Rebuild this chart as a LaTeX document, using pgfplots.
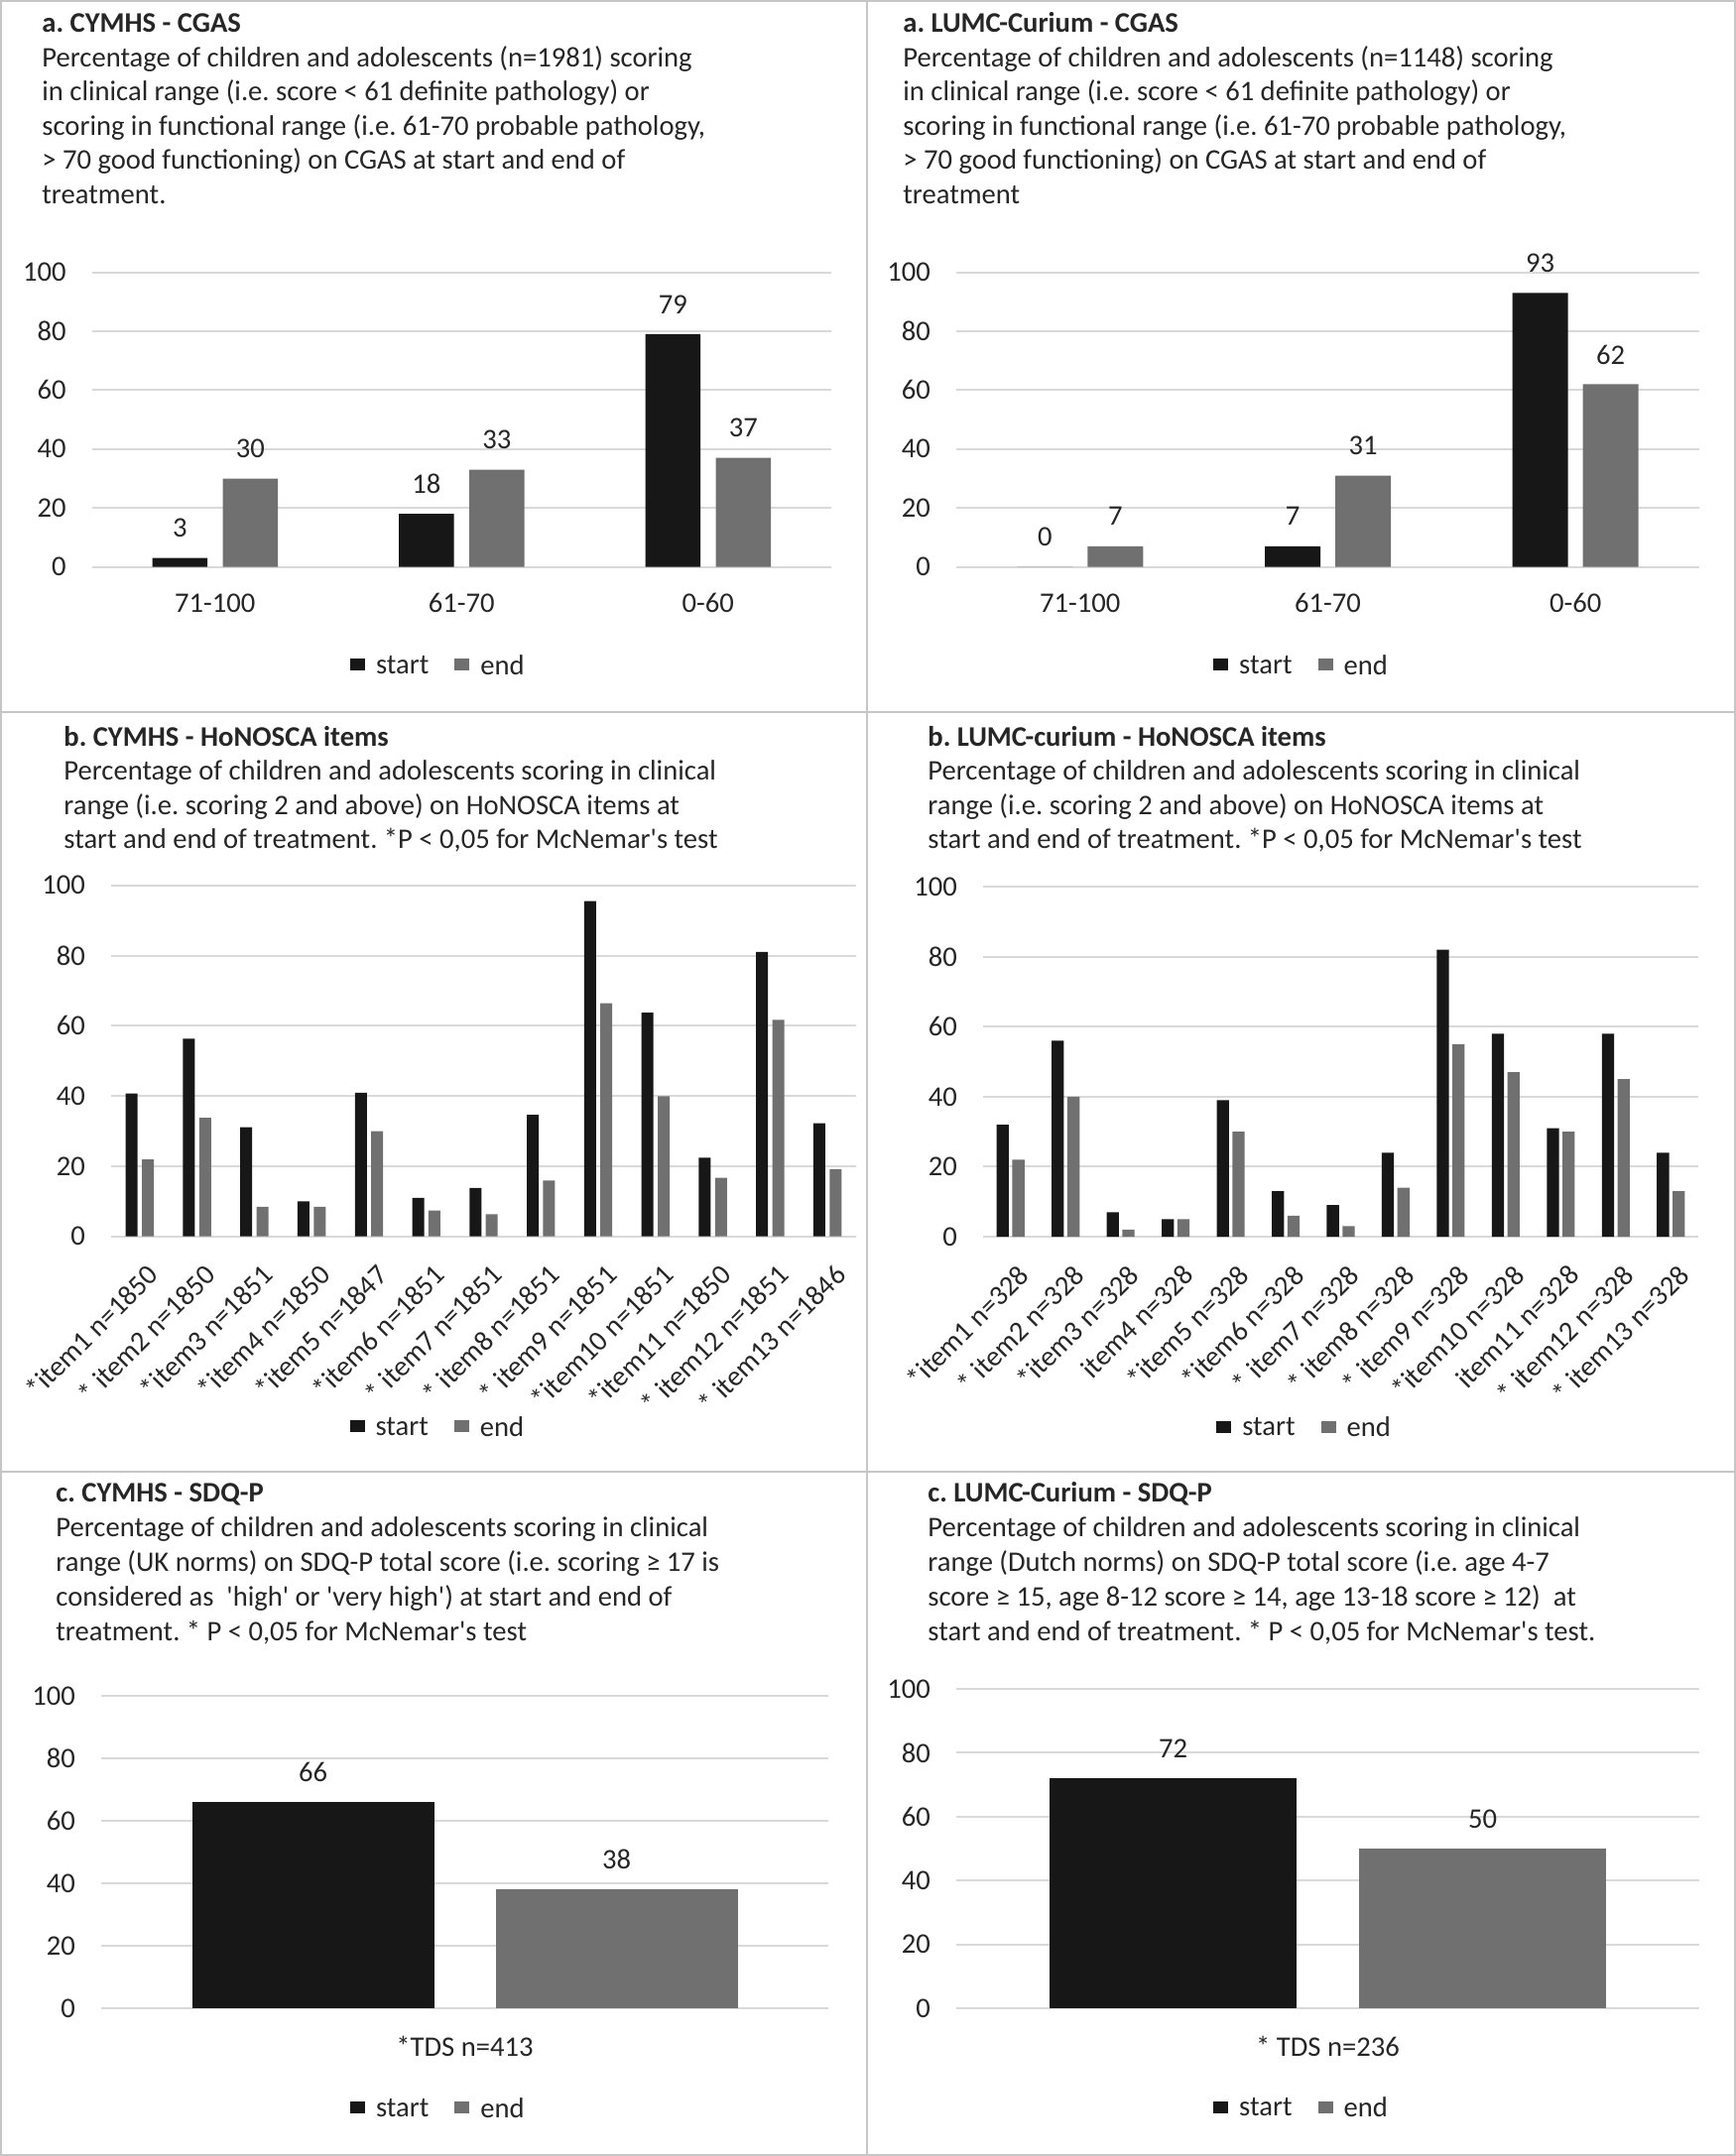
\documentclass[border=0pt]{standalone}
\usepackage{fontspec}
\setmainfont{Carlito}
\usepackage{pgfplots}
\pgfplotsset{compat=1.18}
\frenchspacing
\definecolor{cstart}{HTML}{171717}
\definecolor{cend}{HTML}{707070}
\definecolor{gridc}{HTML}{D9D9D9}
\definecolor{txt}{HTML}{262626}
\definecolor{framec}{HTML}{C6C6C6}
\newcommand\fs{\fontsize{14.3}{17.3}\selectfont\frenchspacing}
\newcommand\q{\textquotesingle}
\newcommand\tl[3]{\node[anchor=base west, inner sep=0pt, font=\fs, text=txt] at (#1pt,-#2pt) {#3};}
\newcommand\tb[3]{\node[anchor=base west, inner sep=0pt, font=\fs\bfseries, text=txt] at (#1pt,-#2pt) {#3};}
\pgfplotsset{
  panel/.style={
    scale only axis, anchor=south west, clip=false,
    enlargelimits=false,
    ymin=0, ymax=100, ytick={0,20,40,60,80,100},
    ymajorgrids, grid style={gridc, line width=1pt},
    axis line style={draw=none},
    major tick length=0pt, tick style={draw=none},
    /pgf/number format/assume math mode=true,
    tick label style={font=\fs, text=txt},
    yticklabel style={anchor=east, xshift=-9.5pt},
    ybar,
    legend style={draw=none, fill=none, legend columns=2, font=\fs, text=txt, anchor=center,
      /tikz/every odd column/.append style={column sep=3.5pt},
      /tikz/every even column/.append style={column sep=11pt}},
  },
  vals/.style={nodes near coords, every node near coord/.append style={font=\fs, text=txt, anchor=center, yshift=15pt}},
  sbar/.style={fill=cstart, draw=none, legend image code/.code={\fill[cstart] (0pt,-0.22em) rectangle (7.5pt,0.38em);}},
  ebar/.style={fill=cend, draw=none, legend image code/.code={\fill[cend] (0pt,-0.22em) rectangle (7.5pt,0.38em);}},
}
\begin{document}
\begin{tikzpicture}
\useasboundingbox (0,0) rectangle (875pt,-1087pt);
\fill[white] (0,0) rectangle (875pt,-1087pt);
\draw[framec, line width=1pt] (0.5pt,-0.5pt) rectangle (874.5pt,-1086.5pt);
\draw[framec, line width=1pt] (436.75pt,0pt) -- (436.75pt,-1087pt);
\draw[framec, line width=1pt] (0pt,-358.75pt) -- (875pt,-358.75pt);
\draw[framec, line width=1pt] (0pt,-742pt) -- (875pt,-742pt);

% ---------- texts: top row ----------
\tb{21}{16.25}{a. CYMHS - CGAS}
\tl{21}{33.55}{Percentage of children and adolescents (n=1981) scoring}
\tl{21}{50.85}{in clinical range (i.e. score < 61 definite pathology) or}
\tl{21}{68.15}{scoring in functional range (i.e. 61-70 probable pathology,}
\tl{21}{85.45}{> 70 good functioning) on CGAS at start and end of}
\tl{21}{102.75}{treatment.}
\tb{455}{16.25}{a. LUMC-Curium - CGAS}
\tl{455}{33.55}{Percentage of children and adolescents (n=1148) scoring}
\tl{455}{50.85}{in clinical range (i.e. score < 61 definite pathology) or}
\tl{455}{68.15}{scoring in functional range (i.e. 61-70 probable pathology,}
\tl{455}{85.45}{> 70 good functioning) on CGAS at start and end of}
\tl{455}{102.75}{treatment}
% ---------- texts: middle row ----------
\tb{32}{376}{b. CYMHS - HoNOSCA items}
\tl{32}{393.3}{Percentage of children and adolescents scoring in clinical}
\tl{32}{410.6}{range (i.e. scoring 2 and above) on HoNOSCA items at}
\tl{32}{427.9}{start and end of treatment. *P < 0,05 for McNemar\q s test}
\tb{467.5}{376}{b. LUMC-curium - HoNOSCA items}
\tl{467.5}{393.3}{Percentage of children and adolescents scoring in clinical}
\tl{467.5}{410.6}{range (i.e. scoring 2 and above) on HoNOSCA items at}
\tl{467.5}{427.9}{start and end of treatment. *P < 0,05 for McNemar\q s test}
% ---------- texts: bottom row ----------
\tb{28}{757}{c. CYMHS - SDQ-P}
\tl{28}{774.5}{Percentage of children and adolescents scoring in clinical}
\tl{28}{792}{range (UK norms) on SDQ-P total score (i.e. scoring ≥ 17 is}
\tl{28}{809.5}{considered as~ \q high\q{} or \q very high\q) at start and end of}
\tl{28}{827}{treatment. * P < 0,05 for McNemar\q s test}
\tb{467.5}{757}{c. LUMC-Curium - SDQ-P}
\tl{467.5}{774.5}{Percentage of children and adolescents scoring in clinical}
\tl{467.5}{792}{range (Dutch norms) on SDQ-P total score (i.e. age 4-7}
\tl{467.5}{809.5}{score ≥ 15, age 8-12 score ≥ 14, age 13-18 score ≥ 12)~ at}
\tl{467.5}{827}{start and end of treatment. * P < 0,05 for McNemar\q s test.}

% ---------- A left ----------
\begin{axis}[panel, vals, at={(46.3pt,-285.8pt)}, width=372.7pt, height=148.5pt,
  xmin=-0.5, xmax=2.5, xtick={0,1,2}, xticklabels={71-100,61-70,0-60},
  xticklabel style={anchor=center, yshift=-18.2pt},
  legend style={at={(0.470,-0.338)}}]
\addplot[sbar, bar width=27.75pt, bar shift=-17.75pt] coordinates {(0,3) (1,18) (2,79)};
\addplot[ebar, bar width=27.75pt, bar shift=17.75pt] coordinates {(0,30) (1,33) (2,37)};
\legend{start,end}
\end{axis}
% ---------- A right ----------
\begin{axis}[panel, vals, at={(482pt,-285.8pt)}, width=374.5pt, height=148.5pt,
  xmin=-0.5, xmax=2.5, xtick={0,1,2}, xticklabels={71-100,61-70,0-60},
  xticklabel style={anchor=center, yshift=-18.2pt},
  legend style={at={(0.466,-0.338)}}]
\addplot[sbar, bar width=28pt, bar shift=-17.75pt] coordinates {(0,0) (1,7) (2,93)};
\addplot[ebar, bar width=28pt, bar shift=17.75pt] coordinates {(0,7) (1,31) (2,62)};
\legend{start,end}
\end{axis}
% ---------- B left ----------
\begin{axis}[panel, at={(56pt,-623.35pt)}, width=375.5pt, height=177pt,
  xmin=0.5, xmax=13.5, xtick={1,2,3,4,5,6,7,8,9,10,11,12,13},
  xticklabels={*item1 n=1850,* item2 n=1850,*item3 n=1851,*item4 n=1850,*item5 n=1847,*item6 n=1851,* item7 n=1851,* item8 n=1851,* item9 n=1851,*item10 n=1851,*item11 n=1850,* item12 n=1851,* item13 n=1846},
  xticklabel style={inner sep=0pt, xshift=3pt, yshift=-13pt, rotate=45, anchor=north east},
  legend style={at={(0.44,-0.546)}}]
\addplot[sbar, bar width=6pt, bar shift=-4.1pt] coordinates {(1,40.7) (2,56.3) (3,31.1) (4,10.0) (5,40.9) (6,11.0) (7,13.8) (8,34.6) (9,95.5) (10,63.7) (11,22.4) (12,81.0) (13,32.2)};
\addplot[ebar, bar width=6pt, bar shift=4.1pt] coordinates {(1,21.9) (2,33.8) (3,8.4) (4,8.4) (5,30.0) (6,7.4) (7,6.3) (8,15.9) (9,66.4) (10,39.9) (11,16.7) (12,61.7) (13,19.2)};
\legend{start,end}
\end{axis}
% ---------- B right ----------
\begin{axis}[panel, at={(495.5pt,-623.5pt)}, width=360.5pt, height=176.5pt,
  xmin=0.5, xmax=13.5, xtick={1,2,3,4,5,6,7,8,9,10,11,12,13},
  xticklabels={*item1 n=328,* item2 n=328,*item3 n=328,item4 n=328,*item5 n=328,*item6 n=328,* item7 n=328,* item8 n=328,* item9 n=328,*item10 n=328,item11 n=328,* item12 n=328,* item13 n=328},
  xticklabel style={inner sep=0pt, xshift=3pt, yshift=-13pt, rotate=45, anchor=north east},
  legend style={at={(0.451,-0.547)}}]
\addplot[sbar, bar width=6.15pt, bar shift=-3.95pt] coordinates {(1,32) (2,56) (3,7) (4,5) (5,39) (6,13) (7,9) (8,24) (9,82) (10,58) (11,31) (12,58) (13,24)};
\addplot[ebar, bar width=6.15pt, bar shift=3.95pt] coordinates {(1,22) (2,40) (3,2) (4,5) (5,30) (6,6) (7,3) (8,14) (9,55) (10,47) (11,30) (12,45) (13,13)};
\legend{start,end}
\end{axis}
% ---------- C left ----------
\begin{axis}[panel, vals, at={(51pt,-1012.5pt)}, width=366.5pt, height=157.5pt,
  xmin=-0.5, xmax=0.5, xtick={0}, xticklabels={*TDS n=413},
  xticklabel style={anchor=center, yshift=-19pt},
  legend style={at={(0.465,-0.324)}}]
\addplot[sbar, bar width=122pt, bar shift=-76.5pt] coordinates {(0,66)};
\addplot[ebar, bar width=122pt, bar shift=76.5pt] coordinates {(0,38)};
\legend{start,end}
\end{axis}
% ---------- C right ----------
\begin{axis}[panel, vals, at={(482pt,-1012.5pt)}, width=374.5pt, height=161pt,
  xmin=-0.5, xmax=0.5, xtick={0}, xticklabels={* TDS n=236},
  xticklabel style={anchor=center, yshift=-19pt},
  legend style={at={(0.466,-0.314)}}]
\addplot[sbar, bar width=124.5pt, bar shift=-78pt] coordinates {(0,72)};
\addplot[ebar, bar width=124.5pt, bar shift=78pt] coordinates {(0,50)};
\legend{start,end}
\end{axis}
\end{tikzpicture}
\end{document}
